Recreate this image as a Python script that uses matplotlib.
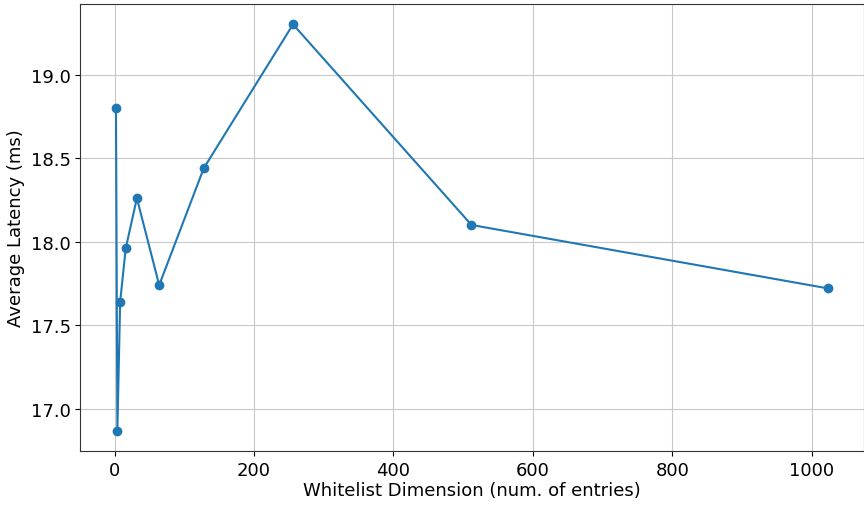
import numpy as np
import matplotlib
import matplotlib.pyplot as plt

matplotlib.use('Agg')

# whitelist sizes (entries) and measured mean latency
whitelist_size = [2, 4, 8, 16, 32, 64, 128, 256, 512, 1024]
avg_latency = [18.80, 16.87, 17.64, 17.96, 18.26, 17.74, 18.44, 19.30, 18.10, 17.72]

plt.rcParams['font.size'] = 13

fig = plt.figure(figsize=(8.64, 5.06), dpi=100)
ax = fig.add_axes([0.093, 0.107, 0.907, 0.883])
ax.plot(whitelist_size, avg_latency, marker='o', color='#1f77b4')
ax.grid(True, color='#c8c8c8')
for spine in ax.spines.values():
    spine.set_color('#333333')
ax.set_xlabel('Whitelist Dimension (num. of entries)', labelpad=2)
ax.set_ylabel('Average Latency (ms)')

fig.savefig('out.png', dpi=100)
